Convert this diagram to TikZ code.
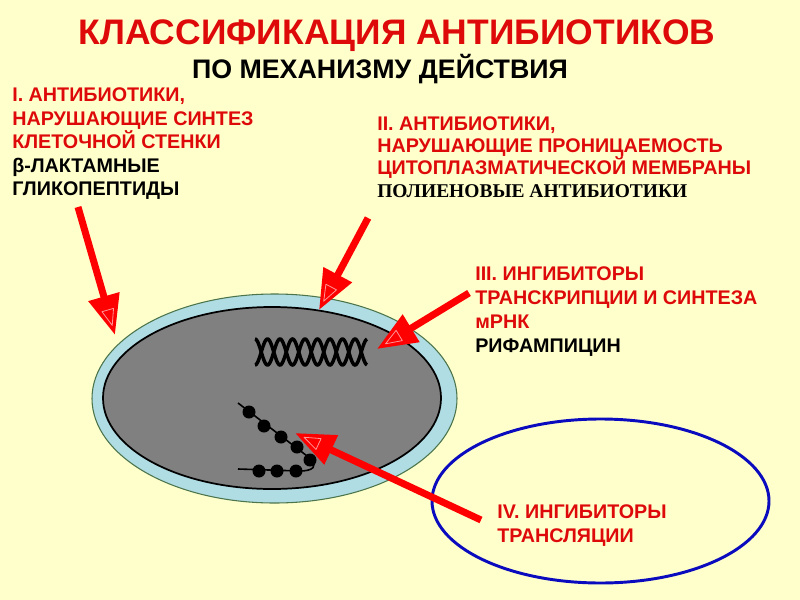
\documentclass[tikz,border=0pt]{standalone}
\usepackage{fontspec}
\setmainfont{Liberation Sans}
\newfontfamily\serifbold{Liberation Serif}
\usepackage{xcolor}
\usepackage{tikz}
\usetikzlibrary{arrows.meta,calc}

\definecolor{bgYellow}{RGB}{255,255,204}
\definecolor{txtRed}{RGB}{222,10,10}
\definecolor{arrowRed}{RGB}{255,0,0}
\definecolor{wallBlue}{RGB}{176,220,228}
\definecolor{plasmaGray}{RGB}{128,128,128}
\definecolor{ringBlue}{RGB}{10,10,190}
\definecolor{markPink}{RGB}{255,150,150}

\tikzstyle{tsBold} = [
    text=black,
    font=\bfseries\fontsize{14.8}{17.6}\selectfont,
    inner sep=0pt,
    anchor=base west
]
\tikzstyle{tsRedBold} = [
    tsBold,
    text=txtRed
]
\tikzstyle{tsTitle} = [
    text=txtRed,
    font=\bfseries\fontsize{26.6}{30}\selectfont,
    inner sep=0pt,
    anchor=base
]
\tikzstyle{tsSubtitle} = [
    text=black,
    font=\bfseries\fontsize{20.1}{23}\selectfont,
    inner sep=0pt,
    anchor=base
]
\tikzstyle{tsRedArrow} = [
    draw=arrowRed,
    line width=5.25pt,
    -{Triangle[length=30pt,width=23pt]}
]
\tikzstyle{tsTipMark} = [
    draw=markPink,
    line width=0.6pt,
    line join=round
]

\newcommand{\tipmark}[2]{%
    \draw[tsTipMark] ($(#2)!7.5pt!(#1)$)
        -- ($(#2)!19.5pt!(#1)!4.5pt!90:(#2)$)
        -- ($(#2)!19.5pt!(#1)!4.5pt!-90:(#2)$) -- cycle;
}

\begin{document}
\begin{tikzpicture}[x=0.75pt, y=-0.75pt]

    \fill[bgYellow] (0,0) rectangle (800,600);
    \useasboundingbox (0,0) rectangle (800,600);

    \node[tsTitle] (titleMain) at (397,44) {КЛАССИФИКАЦИЯ АНТИБИОТИКОВ};
    \node[tsSubtitle] (titleSub) at (380,78) {ПО МЕХАНИЗМУ ДЕЙСТВИЯ};

    % I
    \node[tsRedBold] (groupIa) at (12,101) {I. АНТИБИОТИКИ,};
    \node[tsRedBold] (groupIb) at (12,125) {НАРУШАЮЩИЕ СИНТЕЗ};
    \node[tsRedBold] (groupIc) at (12,148) {КЛЕТОЧНОЙ СТЕНКИ};
    \node[tsBold] (drugIa) at (12,172) {β-ЛАКТАМНЫЕ};
    \node[tsBold] (drugIb) at (12,195) {ГЛИКОПЕПТИДЫ};

    % II
    \node[tsRedBold] (groupIIa) at (377,130) {II. АНТИБИОТИКИ,};
    \node[tsRedBold] (groupIIb) at (377,152) {НАРУШАЮЩИЕ ПРОНИЦАЕМОСТЬ};
    \node[tsRedBold] (groupIIc) at (377,174) {ЦИТОПЛАЗМАТИЧЕСКОЙ МЕМБРАНЫ};
    \node[tsBold, font=\serifbold\bfseries\fontsize{14.6}{17.6}\selectfont] (drugIIa) at (377,197) {ПОЛИЕНОВЫЕ АНТИБИОТИКИ};

    % III
    \node[tsRedBold] (groupIIIa) at (475,280) {III. ИНГИБИТОРЫ};
    \node[tsRedBold] (groupIIIb) at (475,304) {ТРАНСКРИПЦИИ И СИНТЕЗА};
    \node[tsRedBold] (groupIIIc) at (475,328) {мРНК};
    \node[tsBold] (drugIIIa) at (475,352) {РИФАМПИЦИН};

    % cell
    \coordinate (cell) at (274.5,398.5);
    \draw[fill=wallBlue, draw=black!60!green!40!gray, line width=0.8pt] (cell) ellipse [x radius=182.5, y radius=104.5];
    \draw[fill=plasmaGray, draw=black, line width=1.3pt] (272,398) ellipse [x radius=169, y radius=91];

    % DNA
    \draw[black, line width=2.6pt] plot[domain=255:367, samples=150, smooth] (\x, {352+13*cos(14.4*(\x-255))});
    \draw[black, line width=2.6pt] plot[domain=255:367, samples=150, smooth] (\x, {352-13*cos(14.4*(\x-255))});

    % mRNA with ribosomes
    \draw[black, line width=1.2pt] (238,403) -- (311,459) .. controls (318,466) and (313,471) .. (300,471) -- (238,469);
    \foreach \px/\py in {249/412, 264/426, 281/437, 297/447, 310/460, 259/471, 277/471, 296/471}
        \fill[black] (\px,\py) circle [radius=6.5];

    % translation ring
    \draw[ringBlue, line width=2.2pt] (600.5,501) ellipse [x radius=168.5, y radius=82];

    % IV
    \node[tsRedBold] (groupIVa) at (497,518) {IV. ИНГИБИТОРЫ};
    \node[tsRedBold] (groupIVb) at (497,542) {ТРАНСЛЯЦИИ};

    % arrows
    \coordinate (tailI) at (78,207);     \coordinate (tipI) at (115,335);
    \coordinate (tailII) at (368,218);   \coordinate (tipII) at (319,310);
    \coordinate (tailIII) at (469,293);  \coordinate (tipIII) at (377,349);
    \coordinate (tailIV) at (481,520);   \coordinate (tipIV) at (295,433);

    \draw[tsRedArrow] (tailI) -- (tipI);
    \draw[tsRedArrow] (tailII) -- (tipII);
    \draw[tsRedArrow] (tailIII) -- (tipIII);
    \draw[tsRedArrow] (tailIV) -- (tipIV);

    \tipmark{tailI}{tipI}
    \tipmark{tailII}{tipII}
    \tipmark{tailIII}{tipIII}
    \tipmark{tailIV}{tipIV}

\end{tikzpicture}
\end{document}
